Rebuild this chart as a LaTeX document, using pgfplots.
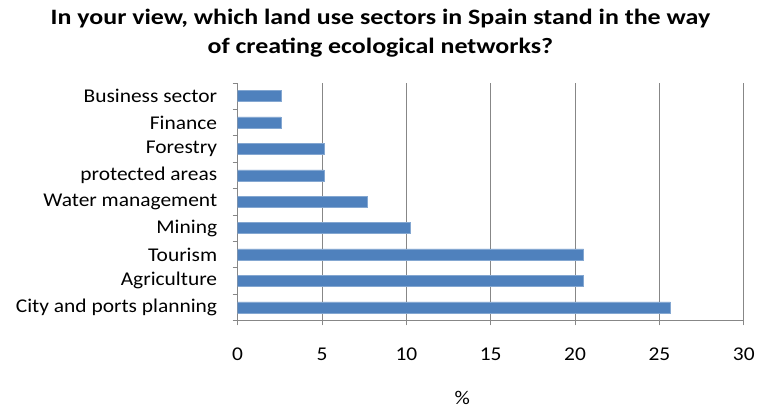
\documentclass[border=0pt]{standalone}
\usepackage{pgfplots}
\pgfplotsset{compat=1.18}
\usepackage{fontspec}
\setmainfont{Carlito}
\newfontfamily\labelfont[FakeStretch=1.1]{Carlito}
\newfontfamily\titlefont[FakeStretch=1.18]{Carlito}
\definecolor{barblue}{HTML}{4F81BD}
\definecolor{gridgray}{HTML}{878787}
\begin{document}
\begin{tikzpicture}
\begin{axis}[
  scale only axis,
  width=507bp, height=238bp,
  xbar, bar width=11bp,
  xmin=0, xmax=30, ymin=-0.5, ymax=8.5,
  xtick={0,5,...,30},
  ytick={0,...,8},
  yticklabels={City and ports planning, Agriculture, Tourism, Mining, Water management, protected areas, Forestry, Finance, Business sector},
  minor ytick={-0.5,0.5,...,8.5},
  axis x line*=bottom, axis y line*=left,
  axis line style={gridgray, line width=0.7bp, -},
  xmajorgrids, major grid style={gridgray, line width=0.7bp},
  tick align=outside,
  major tick length=5bp, minor tick length=5bp,
  major y tick style={draw=none},
  minor y tick style={gridgray, line width=0.7bp},
  major x tick style={gridgray, line width=0.7bp},
  tick label style={font=\labelfont\fontsize{19.5bp}{22bp}\selectfont, text=black},
  xticklabel style={yshift=-19bp},
  yticklabel style={xshift=-12bp},
  /pgf/number format/assume math mode=true,
]
\addplot[fill=barblue, draw=barblue!70!white, line width=0.5bp] coordinates {
  (25.64,0) (20.51,1) (20.51,2) (10.26,3) (7.69,4) (5.13,5) (5.13,6) (2.56,7) (2.56,8)
};
\coordinate (sw) at (rel axis cs:0,0);
\coordinate (ne) at (rel axis cs:1,1);
\end{axis}
\path ([shift={(-238bp,-86bp)}]sw) rectangle ([shift={(13bp,83bp)}]ne);
\node[font=\titlefont\bfseries\fontsize{22bp}{29bp}\selectfont, align=center] at ([shift={(143bp,288bp)}]sw)
  {In your view, which land use sectors in Spain stand in the way\\of creating ecological networks?};
\node[font=\labelfont\fontsize{19.5bp}{22bp}\selectfont] at ([shift={(225bp,-78bp)}]sw) {\%};
\end{tikzpicture}
\end{document}
